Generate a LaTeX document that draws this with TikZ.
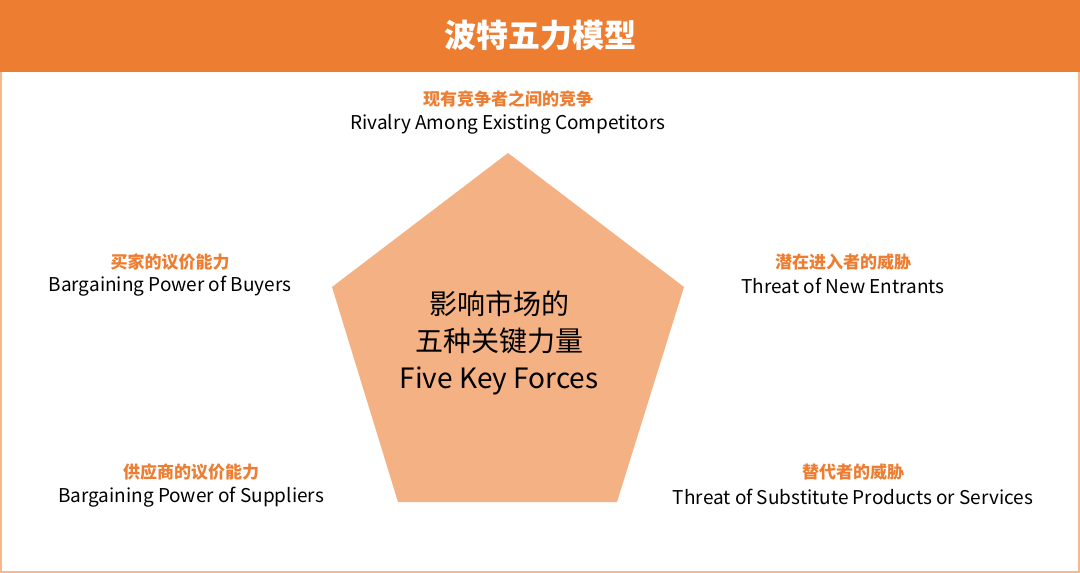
\documentclass[tikz,border=0pt]{standalone}
\usepackage{fontspec}
\setmainfont{Noto Sans CJK SC}
\newfontfamily\cjkb{Noto Sans CJK SC}[FakeBold=0]
\definecolor{hdr}{HTML}{ED7D31}
\definecolor{pent}{HTML}{F4B183}
\definecolor{brd}{HTML}{F8B88C}
\tikzset{
 cn/.style={text=hdr,font=\fontsize{17}{20}\selectfont\bfseries},
 en/.style={text=black,font=\fontsize{19}{22}\selectfont},
}
\begin{document}
\begin{tikzpicture}[x=1pt,y=-1pt]
\useasboundingbox (0,0) rectangle (1080,573);
\draw[brd,line width=1.5pt] (1,1) rectangle (1079,572);
\fill[hdr] (0,0) rectangle (1080,72);
\node[text=white,font=\fontsize{32}{36}\selectfont\bfseries] (title) at (540,35) {波特五力模型};
\fill[pent] (508,153) -- (684,287) -- (617,502) -- (398,502) -- (332,287) -- cycle;
\node[align=center,font=\fontsize{28}{37}\selectfont] (c) at (499,343) {影响市场的\\五种关键力量\\Five Key Forces};
\node[cn] (a1) at (508,99) {现有竞争者之间的竞争};
\node[en] (b1) at (508,124) {Rivalry Among Existing Competitors};
\node[cn] (a2) at (170,262) {买家的议价能力};
\node[en] (b2) at (170,286) {Bargaining Power of Buyers};
\node[cn] (a3) at (843,262) {潜在进入者的威胁};
\node[en] (b3) at (843,286) {Threat of New Entrants};
\node[cn] (a4) at (191,472) {供应商的议价能力};
\node[en] (b4) at (191,497) {Bargaining Power of Suppliers};
\node[cn] (a5) at (853,472) {替代者的威胁};
\node[en] (b5) at (853,497) {Threat of Substitute Products or Services};
\end{tikzpicture}
\end{document}
